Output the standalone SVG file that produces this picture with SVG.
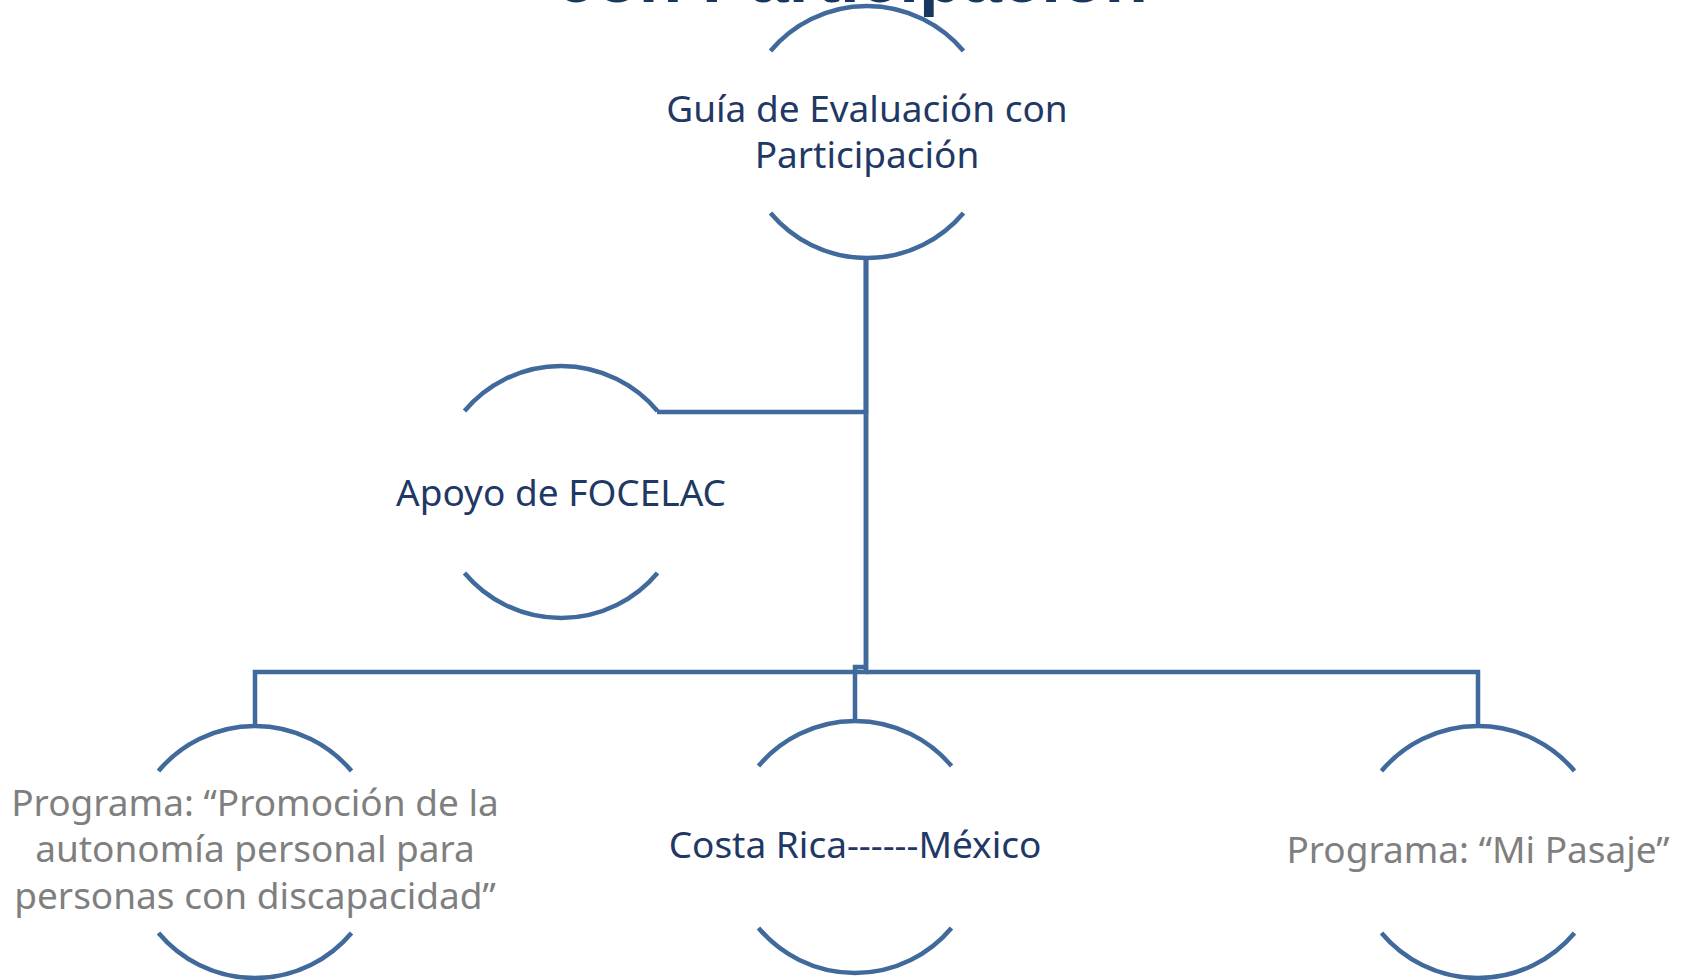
<svg xmlns="http://www.w3.org/2000/svg" xmlns:xlink="http://www.w3.org/1999/xlink" width="1690" height="980" viewBox="0 0 1690 980">
<style>
.ln{fill:none;stroke:#40699c;stroke-width:4.5;stroke-linejoin:miter}
.t{font-family:"Noto Sans","Open Sans",sans-serif;font-size:37px;text-anchor:middle}
.dk{fill:#1f3864}
.gr{fill:#7f7f7f}
.title{font-family:"Liberation Sans",Arial,sans-serif;font-weight:bold;font-size:71px;fill:#17375e}
</style>
<defs>
<path id="ring" d="M-96.5,-81 A126,126 0 0,1 96.5,-81 M-96.5,81 A126,126 0 0,0 96.5,81"/>
</defs>
<rect width="1690" height="980" fill="#ffffff"/>
<text class="title" x="556" y="2">con Participación</text>
<g id="connectors" class="ln">
<path d="M866,258 V412 H657"/>
<path d="M866,258 V672 H255 V726"/>
<path d="M866,672 H1478 V726"/>
<path d="M866,258 V667 H855 V721"/>
</g>
<g id="node-guia">
<use xlink:href="#ring" href="#ring" x="867" y="132" class="ln"/>
<text class="t dk" x="867" y="122">Guía de Evaluación con</text>
<text class="t dk" x="867" y="168">Participación</text>
</g>
<g id="node-focelac">
<use xlink:href="#ring" href="#ring" x="561" y="492" class="ln"/>
<text class="t dk" x="561" y="506">Apoyo de FOCELAC</text>
</g>
<g id="node-promocion">
<use xlink:href="#ring" href="#ring" x="255" y="852" class="ln"/>
<text class="t gr" x="255" y="816">Programa: “Promoción de la</text>
<text class="t gr" x="255" y="862">autonomía personal para</text>
<text class="t gr" x="255" y="909">personas con discapacidad”</text>
</g>
<g id="node-costarica">
<use xlink:href="#ring" href="#ring" x="855" y="847" class="ln"/>
<text class="t dk" x="855" y="858">Costa Rica------México</text>
</g>
<g id="node-mipasaje">
<use xlink:href="#ring" href="#ring" x="1478" y="852" class="ln"/>
<text class="t gr" x="1478" y="863">Programa: “Mi Pasaje”</text>
</g>
</svg>
